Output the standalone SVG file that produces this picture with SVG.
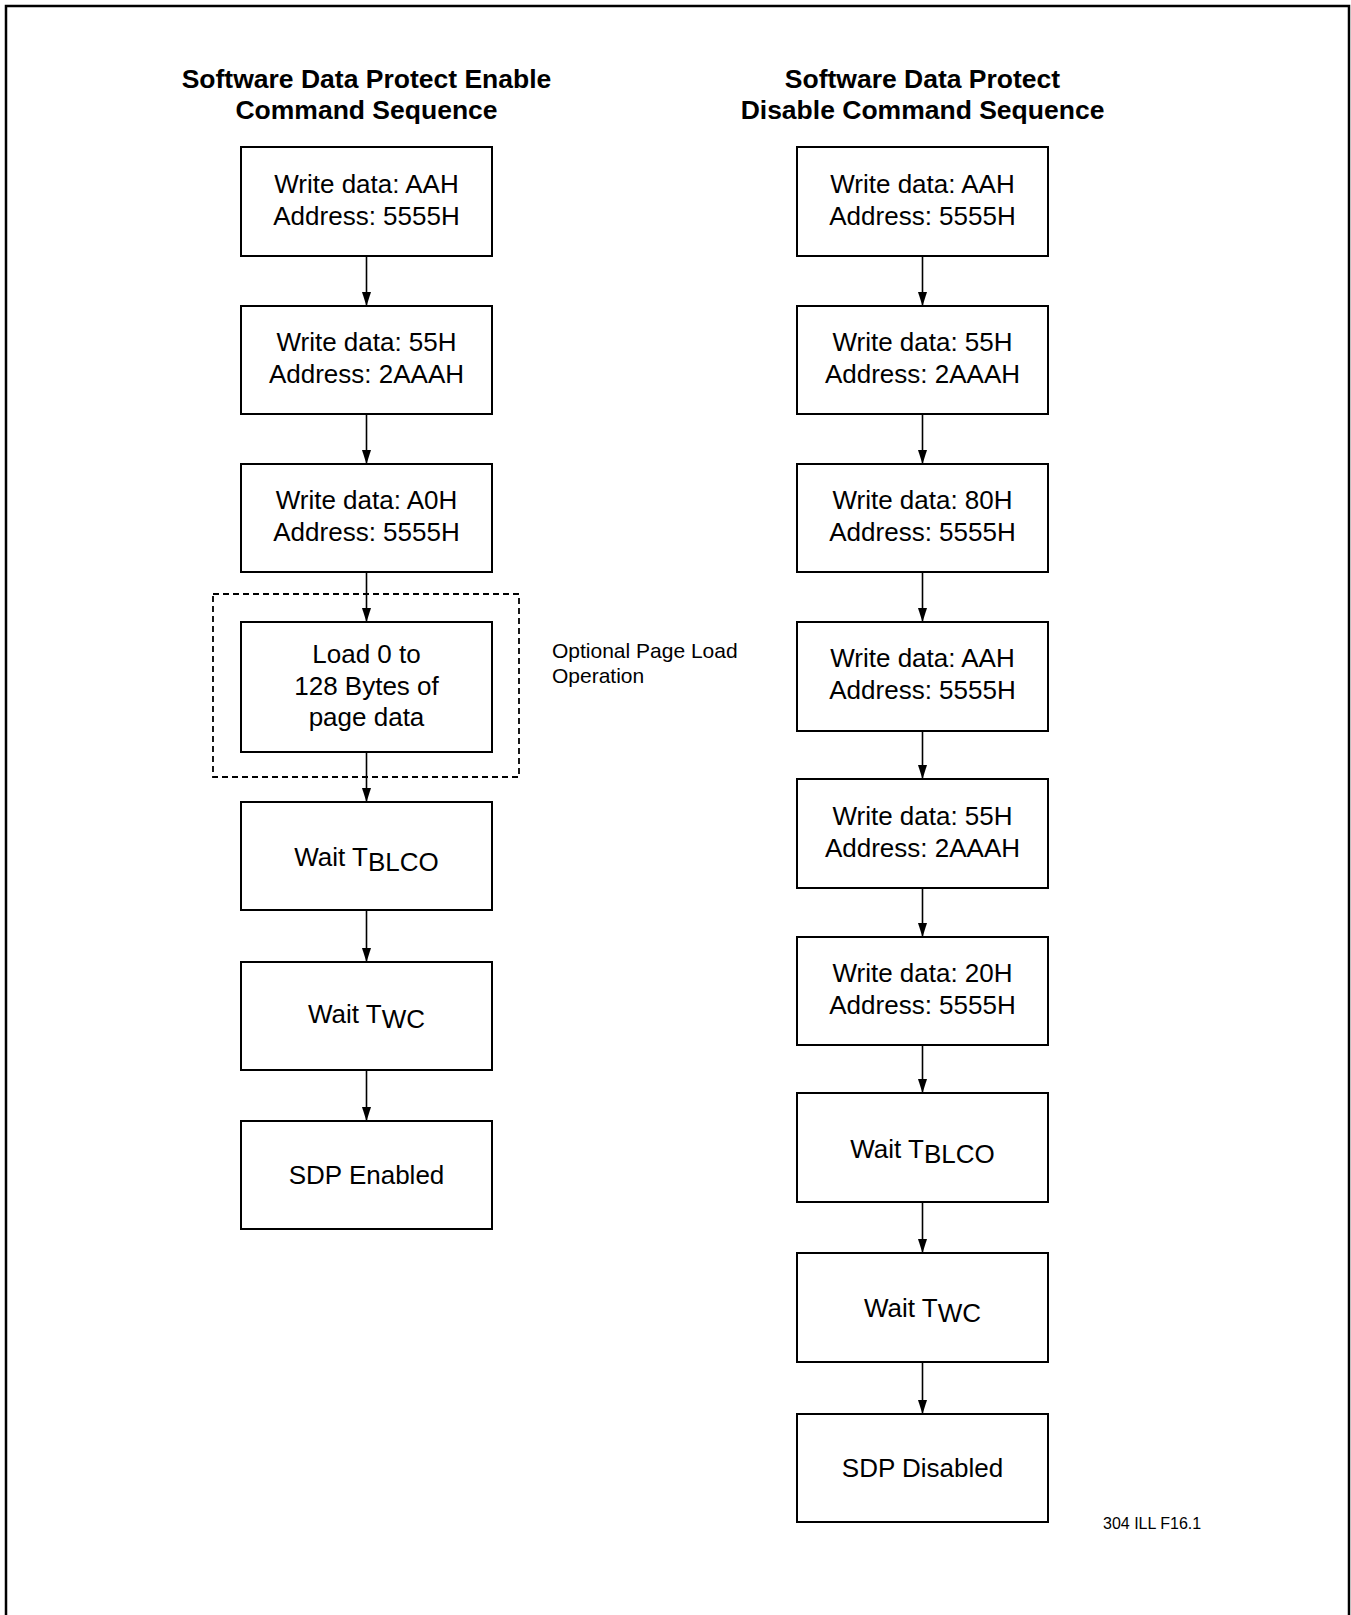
<svg xmlns="http://www.w3.org/2000/svg" width="1351" height="1615" viewBox="0 0 1351 1615">
<style>
.frame{fill:none;stroke:#000;stroke-width:2.5}
.box{fill:#fff;stroke:#000;stroke-width:2}
.dash{fill:none;stroke:#000;stroke-width:1.8;stroke-dasharray:6,4}
.t{font-family:"Liberation Sans",Arial,Helvetica,sans-serif;font-size:26px;fill:#000;text-anchor:middle}
.h{font-family:"Liberation Sans",Arial,Helvetica,sans-serif;font-size:26.5px;font-weight:bold;fill:#000;text-anchor:middle}
.n{font-family:"Liberation Sans",Arial,Helvetica,sans-serif;font-size:21px;fill:#000}
.s{font-family:"Liberation Sans",Arial,Helvetica,sans-serif;font-size:16px;fill:#000}
.c{stroke:#000;stroke-width:1.6;fill:none;marker-end:url(#ah)}
</style>
<defs>
<marker id="ah" markerWidth="14" markerHeight="9" refX="14" refY="4.5" orient="auto" markerUnits="userSpaceOnUse" viewBox="0 0 14 9">
<path d="M0,0 L14,4.5 L0,9 Z" fill="#000"/>
</marker>
</defs>
<rect class="frame" x="6" y="6" width="1343" height="1700"/>

<g id="title-left">
<text class="h" x="366.5" y="88">Software Data Protect Enable</text>
<text class="h" x="366.5" y="119">Command Sequence</text>
</g>
<g id="title-right">
<text class="h" x="922.5" y="88">Software Data Protect</text>
<text class="h" x="922.5" y="119">Disable Command Sequence</text>
</g>

<g id="optional-group">
<rect class="dash" x="213" y="594" width="306" height="183"/>
<text class="n" x="552" y="658">Optional Page Load</text>
<text class="n" x="552" y="683">Operation</text>
</g>

<g id="connectors">
<path class="c" d="M366.5,256 V306"/>
<path class="c" d="M366.5,414 V464"/>
<path class="c" d="M366.5,572 V622"/>
<path class="c" d="M366.5,752 V802"/>
<path class="c" d="M366.5,910 V962"/>
<path class="c" d="M366.5,1070 V1121"/>
<path class="c" d="M922.5,256 V306"/>
<path class="c" d="M922.5,414 V464"/>
<path class="c" d="M922.5,572 V622"/>
<path class="c" d="M922.5,731 V779"/>
<path class="c" d="M922.5,888 V937"/>
<path class="c" d="M922.5,1045 V1093"/>
<path class="c" d="M922.5,1202 V1253"/>
<path class="c" d="M922.5,1362 V1414"/>
</g>

<g id="L1"><rect class="box" x="241" y="147" width="251" height="109"/>
<text class="t" x="366.5" y="193">Write data: AAH</text><text class="t" x="366.5" y="225">Address: 5555H</text></g>
<g id="L2"><rect class="box" x="241" y="306" width="251" height="108"/>
<text class="t" x="366.5" y="351">Write data: 55H</text><text class="t" x="366.5" y="383">Address: 2AAAH</text></g>
<g id="L3"><rect class="box" x="241" y="464" width="251" height="108"/>
<text class="t" x="366.5" y="509">Write data: A0H</text><text class="t" x="366.5" y="541">Address: 5555H</text></g>
<g id="L4"><rect class="box" x="241" y="622" width="251" height="130"/>
<text class="t" x="366.5" y="663">Load 0 to</text><text class="t" x="366.5" y="695">128 Bytes of</text><text class="t" x="366.5" y="726">page data</text></g>
<g id="L5"><rect class="box" x="241" y="802" width="251" height="108"/>
<text class="t" x="366.5" y="866">Wait T<tspan dy="5">BLCO</tspan></text></g>
<g id="L6"><rect class="box" x="241" y="962" width="251" height="108"/>
<text class="t" x="366.5" y="1023">Wait T<tspan dy="5">WC</tspan></text></g>
<g id="L7"><rect class="box" x="241" y="1121" width="251" height="108"/>
<text class="t" x="366.5" y="1184">SDP Enabled</text></g>

<g id="R1"><rect class="box" x="797" y="147" width="251" height="109"/>
<text class="t" x="922.5" y="193">Write data: AAH</text><text class="t" x="922.5" y="225">Address: 5555H</text></g>
<g id="R2"><rect class="box" x="797" y="306" width="251" height="108"/>
<text class="t" x="922.5" y="351">Write data: 55H</text><text class="t" x="922.5" y="383">Address: 2AAAH</text></g>
<g id="R3"><rect class="box" x="797" y="464" width="251" height="108"/>
<text class="t" x="922.5" y="509">Write data: 80H</text><text class="t" x="922.5" y="541">Address: 5555H</text></g>
<g id="R4"><rect class="box" x="797" y="622" width="251" height="109"/>
<text class="t" x="922.5" y="667">Write data: AAH</text><text class="t" x="922.5" y="699">Address: 5555H</text></g>
<g id="R5"><rect class="box" x="797" y="779" width="251" height="109"/>
<text class="t" x="922.5" y="825">Write data: 55H</text><text class="t" x="922.5" y="857">Address: 2AAAH</text></g>
<g id="R6"><rect class="box" x="797" y="937" width="251" height="108"/>
<text class="t" x="922.5" y="982">Write data: 20H</text><text class="t" x="922.5" y="1014">Address: 5555H</text></g>
<g id="R7"><rect class="box" x="797" y="1093" width="251" height="109"/>
<text class="t" x="922.5" y="1158">Wait T<tspan dy="5">BLCO</tspan></text></g>
<g id="R8"><rect class="box" x="797" y="1253" width="251" height="109"/>
<text class="t" x="922.5" y="1317">Wait T<tspan dy="5">WC</tspan></text></g>
<g id="R9"><rect class="box" x="797" y="1414" width="251" height="108"/>
<text class="t" x="922.5" y="1477">SDP Disabled</text></g>

<text class="s" x="1103" y="1529">304 ILL F16.1</text>
</svg>
